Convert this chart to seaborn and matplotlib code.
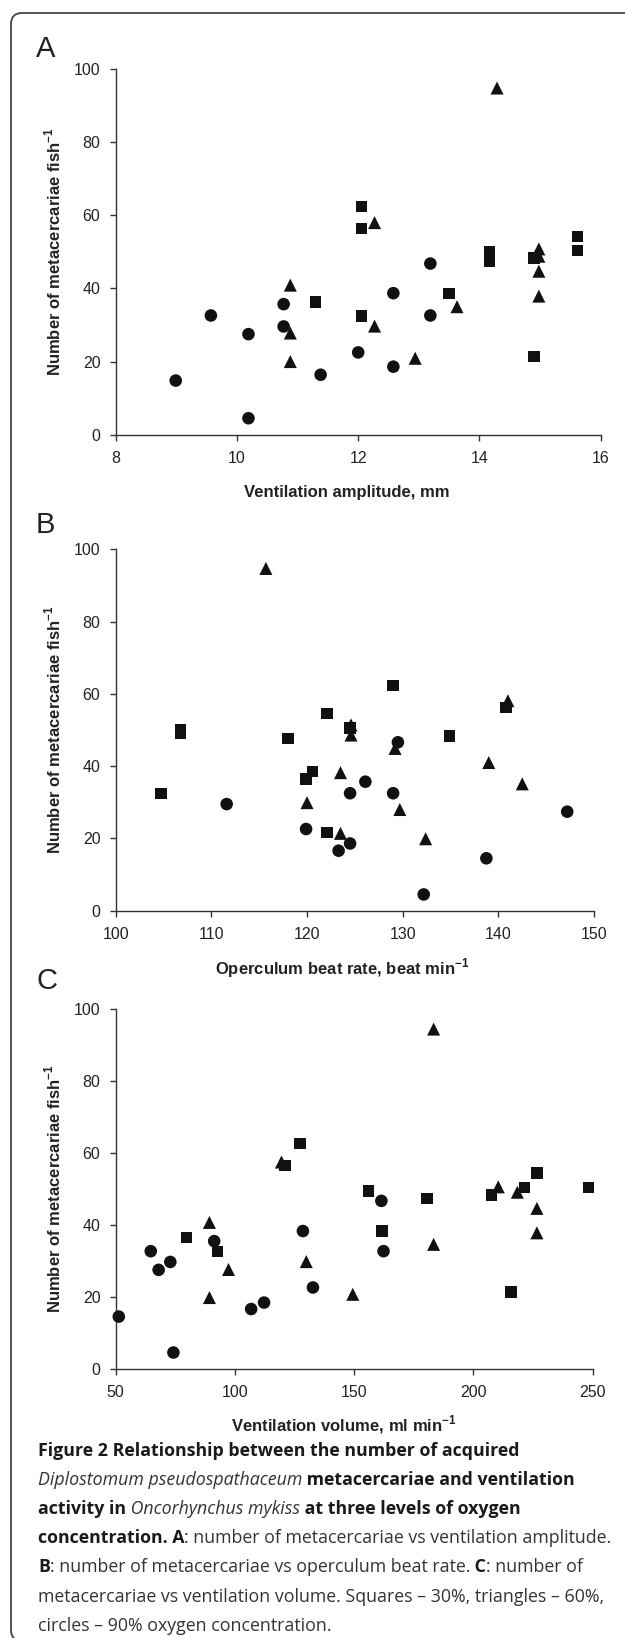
import numpy as np
import pandas as pd
import matplotlib
matplotlib.use("Agg")
import matplotlib.pyplot as plt
import matplotlib.patches as mpatches
import matplotlib.transforms as mtransforms
import seaborn as sns

# oxygen levels: squares 30%, triangles 60%, circles 90%
levels = ["30%", "60%", "90%"]

# Panel A - ventilation amplitude, mm
amp_sq_x = [11.3, 12.05, 12.05, 12.05, 13.5, 14.17, 14.17, 14.9, 14.9, 15.62, 15.62]
amp_sq_y = [36.3, 62.4, 56.4, 32.5, 38.6, 49.9, 47.4, 48.3, 21.4, 54.2, 50.4]
amp_tri_x = [10.88, 10.88, 10.88, 12.27, 12.27, 12.94, 13.63, 14.29, 14.98, 14.98, 14.98, 14.98]
amp_tri_y = [40.9, 27.8, 20.0, 58.0, 29.7, 20.9, 35.0, 94.8, 50.8, 48.8, 44.7, 37.9]
amp_circ_x = [8.99, 9.57, 10.19, 10.19, 10.77, 10.77, 11.38, 12.0, 12.58, 12.58, 13.19, 13.19]
amp_circ_y = [14.8, 32.6, 27.5, 4.5, 35.7, 29.6, 16.4, 22.5, 38.7, 18.6, 46.8, 32.6]

# Panel B - operculum beat rate, beat/min
obr_sq_x = [104.75, 106.8, 106.8, 118.0, 119.9, 120.6, 122.1, 122.1, 124.5, 129.0, 134.9, 140.8]
obr_sq_y = [32.5, 50.2, 49.1, 47.7, 36.4, 38.5, 54.6, 21.7, 50.5, 62.3, 48.4, 56.2]
obr_tri_x = [115.7, 124.6, 124.6, 129.2, 123.5, 120.0, 129.7, 123.5, 132.4, 139.0, 142.5, 141.0]
obr_tri_y = [94.7, 51.4, 48.6, 44.9, 38.2, 29.9, 28.0, 21.4, 19.9, 41.0, 35.1, 58.1]
obr_circ_x = [111.6, 119.9, 123.3, 124.5, 124.5, 126.1, 129.0, 129.5, 132.2, 138.75, 147.2]
obr_circ_y = [29.5, 22.6, 16.6, 18.6, 32.5, 35.7, 32.5, 46.6, 4.5, 14.5, 27.4]

# Panel C - ventilation volume, ml/min
vol_sq_x = [79.7, 92.6, 121.0, 127.2, 156.1, 161.6, 180.5, 207.6, 215.7, 221.3, 226.6, 248.2]
vol_sq_y = [36.5, 32.6, 56.5, 62.6, 49.5, 38.3, 47.4, 48.3, 21.3, 50.4, 54.4, 50.4]
vol_tri_x = [89.3, 89.3, 97.3, 119.5, 129.9, 149.4, 183.3, 183.3, 210.4, 218.4, 226.6, 226.6]
vol_tri_y = [40.7, 19.8, 27.6, 57.5, 29.8, 20.7, 94.5, 34.6, 50.6, 49.1, 44.6, 37.8]
vol_circ_x = [51.3, 64.7, 68.0, 72.9, 74.2, 91.3, 106.8, 112.2, 128.5, 132.7, 161.4, 162.3]
vol_circ_y = [14.5, 32.7, 27.5, 29.7, 4.5, 35.5, 16.6, 18.4, 38.3, 22.6, 46.7, 32.7]

y_ticks = [0, 20, 40, 60, 80, 100]
amp_ticks = [8, 10, 12, 14, 16]
obr_ticks = [100, 110, 120, 130, 140, 150]
vol_ticks = [50, 100, 150, 200, 250]

ylab = r"Number of metacercariae fish$^{\mathbf{-1}}$"


def make_frame(sq, tri, circ):
    rows = []
    for lev, (xs, ys) in zip(levels, [sq, tri, circ]):
        rows += [(x, y, lev) for x, y in zip(xs, ys)]
    return pd.DataFrame(rows, columns=["x", "y", "oxygen"])


df_a = make_frame((amp_sq_x, amp_sq_y), (amp_tri_x, amp_tri_y), (amp_circ_x, amp_circ_y))
df_b = make_frame((obr_sq_x, obr_sq_y), (obr_tri_x, obr_tri_y), (obr_circ_x, obr_circ_y))
df_c = make_frame((vol_sq_x, vol_sq_y), (vol_tri_x, vol_tri_y), (vol_circ_x, vol_circ_y))

sns.set_style("ticks")
plt.rcParams["font.family"] = ["Liberation Sans", "DejaVu Sans"]
plt.rcParams["mathtext.fontset"] = "custom"
plt.rcParams["mathtext.rm"] = "Liberation Sans"
plt.rcParams["mathtext.bf"] = "Liberation Sans:bold"

W, H = 625, 1638
fig = plt.figure(figsize=(W / 100, H / 100), dpi=100)
fig.patch.set_facecolor("white")

markers = {"30%": "s", "60%": "^", "90%": "o"}
sizes = {"30%": 68, "60%": 88, "90%": 82}

panels = [
    # df, letter, letter baseline, (left, top, right, bottom) px, ticks, xlabel, xlabel x frac, xlabel offset
    (df_a, "A", 57, (115.7, 69.0, 600.7, 434.7), amp_ticks, "Ventilation amplitude, mm", 0.477, 58),
    (df_b, "B", 533, (115.7, 549.3, 594.0, 910.7), obr_ticks,
     r"Operculum beat rate, beat min$^{\mathbf{-1}}$", 0.473, 57),
    (df_c, "C", 989, (115.7, 1009.3, 592.7, 1368.7), vol_ticks,
     r"Ventilation volume, ml min$^{\mathbf{-1}}$", 0.479, 56),
]

for df, letter, let_y, (l, t, r, b), xt, xlab, xlab_x, xlab_off in panels:
    ax = fig.add_axes([l / W, 1 - b / H, (r - l) / W, (b - t) / H])
    sns.scatterplot(data=df, x="x", y="y", style="oxygen", markers=markers,
                    style_order=levels, size="oxygen", sizes=sizes, size_order=levels,
                    color="#111111", edgecolor="none", linewidth=0, legend=False,
                    ax=ax, clip_on=False, zorder=3)
    ax.set_xlim(xt[0], xt[-1])
    ax.set_ylim(0, 100)
    ax.set_xticks(xt)
    ax.set_yticks(y_ticks)
    sns.despine(ax=ax)
    for sp in ["left", "bottom"]:
        ax.spines[sp].set_color("#333333")
        ax.spines[sp].set_linewidth(1.0)
    ax.tick_params(axis="both", direction="out", length=4, width=1.0, color="#333333",
                   labelsize=11.5, labelcolor="#222222")
    ax.tick_params(axis="x", pad=8)
    ax.tick_params(axis="y", pad=7)
    ax.set_xlabel(xlab, fontsize=12, fontweight="bold", color="#222222")
    ax.set_ylabel(ylab, fontsize=12, fontweight="bold", color="#222222")
    ax.xaxis.set_label_coords(xlab_x, -xlab_off / (b - t))
    ax.xaxis.label.set_va("center")
    ax.yaxis.set_label_coords(-(l - 53) / (r - l), 0.5)
    ax.yaxis.label.set_va("center")
    fig.text(36 / W, 1 - let_y / H, letter, fontsize=21, color="#222222",
             ha="left", va="baseline")

# frame round the figure
frame = mpatches.FancyBboxPatch((11, -3), 700, H - 13 + 3,
                                boxstyle="round,pad=0,rounding_size=11",
                                transform=mtransforms.IdentityTransform(),
                                fill=False, edgecolor="#444444", linewidth=1.3)
fig.add_artist(frame)

# caption, one list of (text, style) per line
caption_lines = [
    [("Figure 2 Relationship between the number of acquired", "b")],
    [("Diplostomum pseudospathaceum", "i"), (" metacercariae and ventilation", "b")],
    [("activity in", "b"), (" Oncorhynchus mykiss", "i"), (" at three levels of oxygen", "b")],
    [("concentration. A", "b"), (": number of metacercariae vs ventilation amplitude.", "")],
    [("B", "b"), (": number of metacercariae vs operculum beat rate.", ""), (" C", "b"),
     (": number of", "")],
    [("metacercariae vs ventilation volume. Squares \u2013 30%, triangles \u2013 60%,", "")],
    [("circles \u2013 90% oxygen concentration.", "")],
]

renderer = fig.canvas.get_renderer()
cap_size = 12.8
for i, line in enumerate(caption_lines):
    x = 38
    y = 1456 + i * 29.1
    for txt, style in line:
        t = fig.text(x / W, 1 - y / H, txt, fontsize=cap_size, family=["Open Sans", "DejaVu Sans"],
                     fontweight="bold" if "b" in style else "normal",
                     fontstyle="italic" if "i" in style else "normal",
                     color="#1a1a1a" if "b" in style else "#333333",
                     ha="left", va="baseline")
        x += t.get_window_extent(renderer).width

fig.savefig("out.png", dpi=100, facecolor="white")
